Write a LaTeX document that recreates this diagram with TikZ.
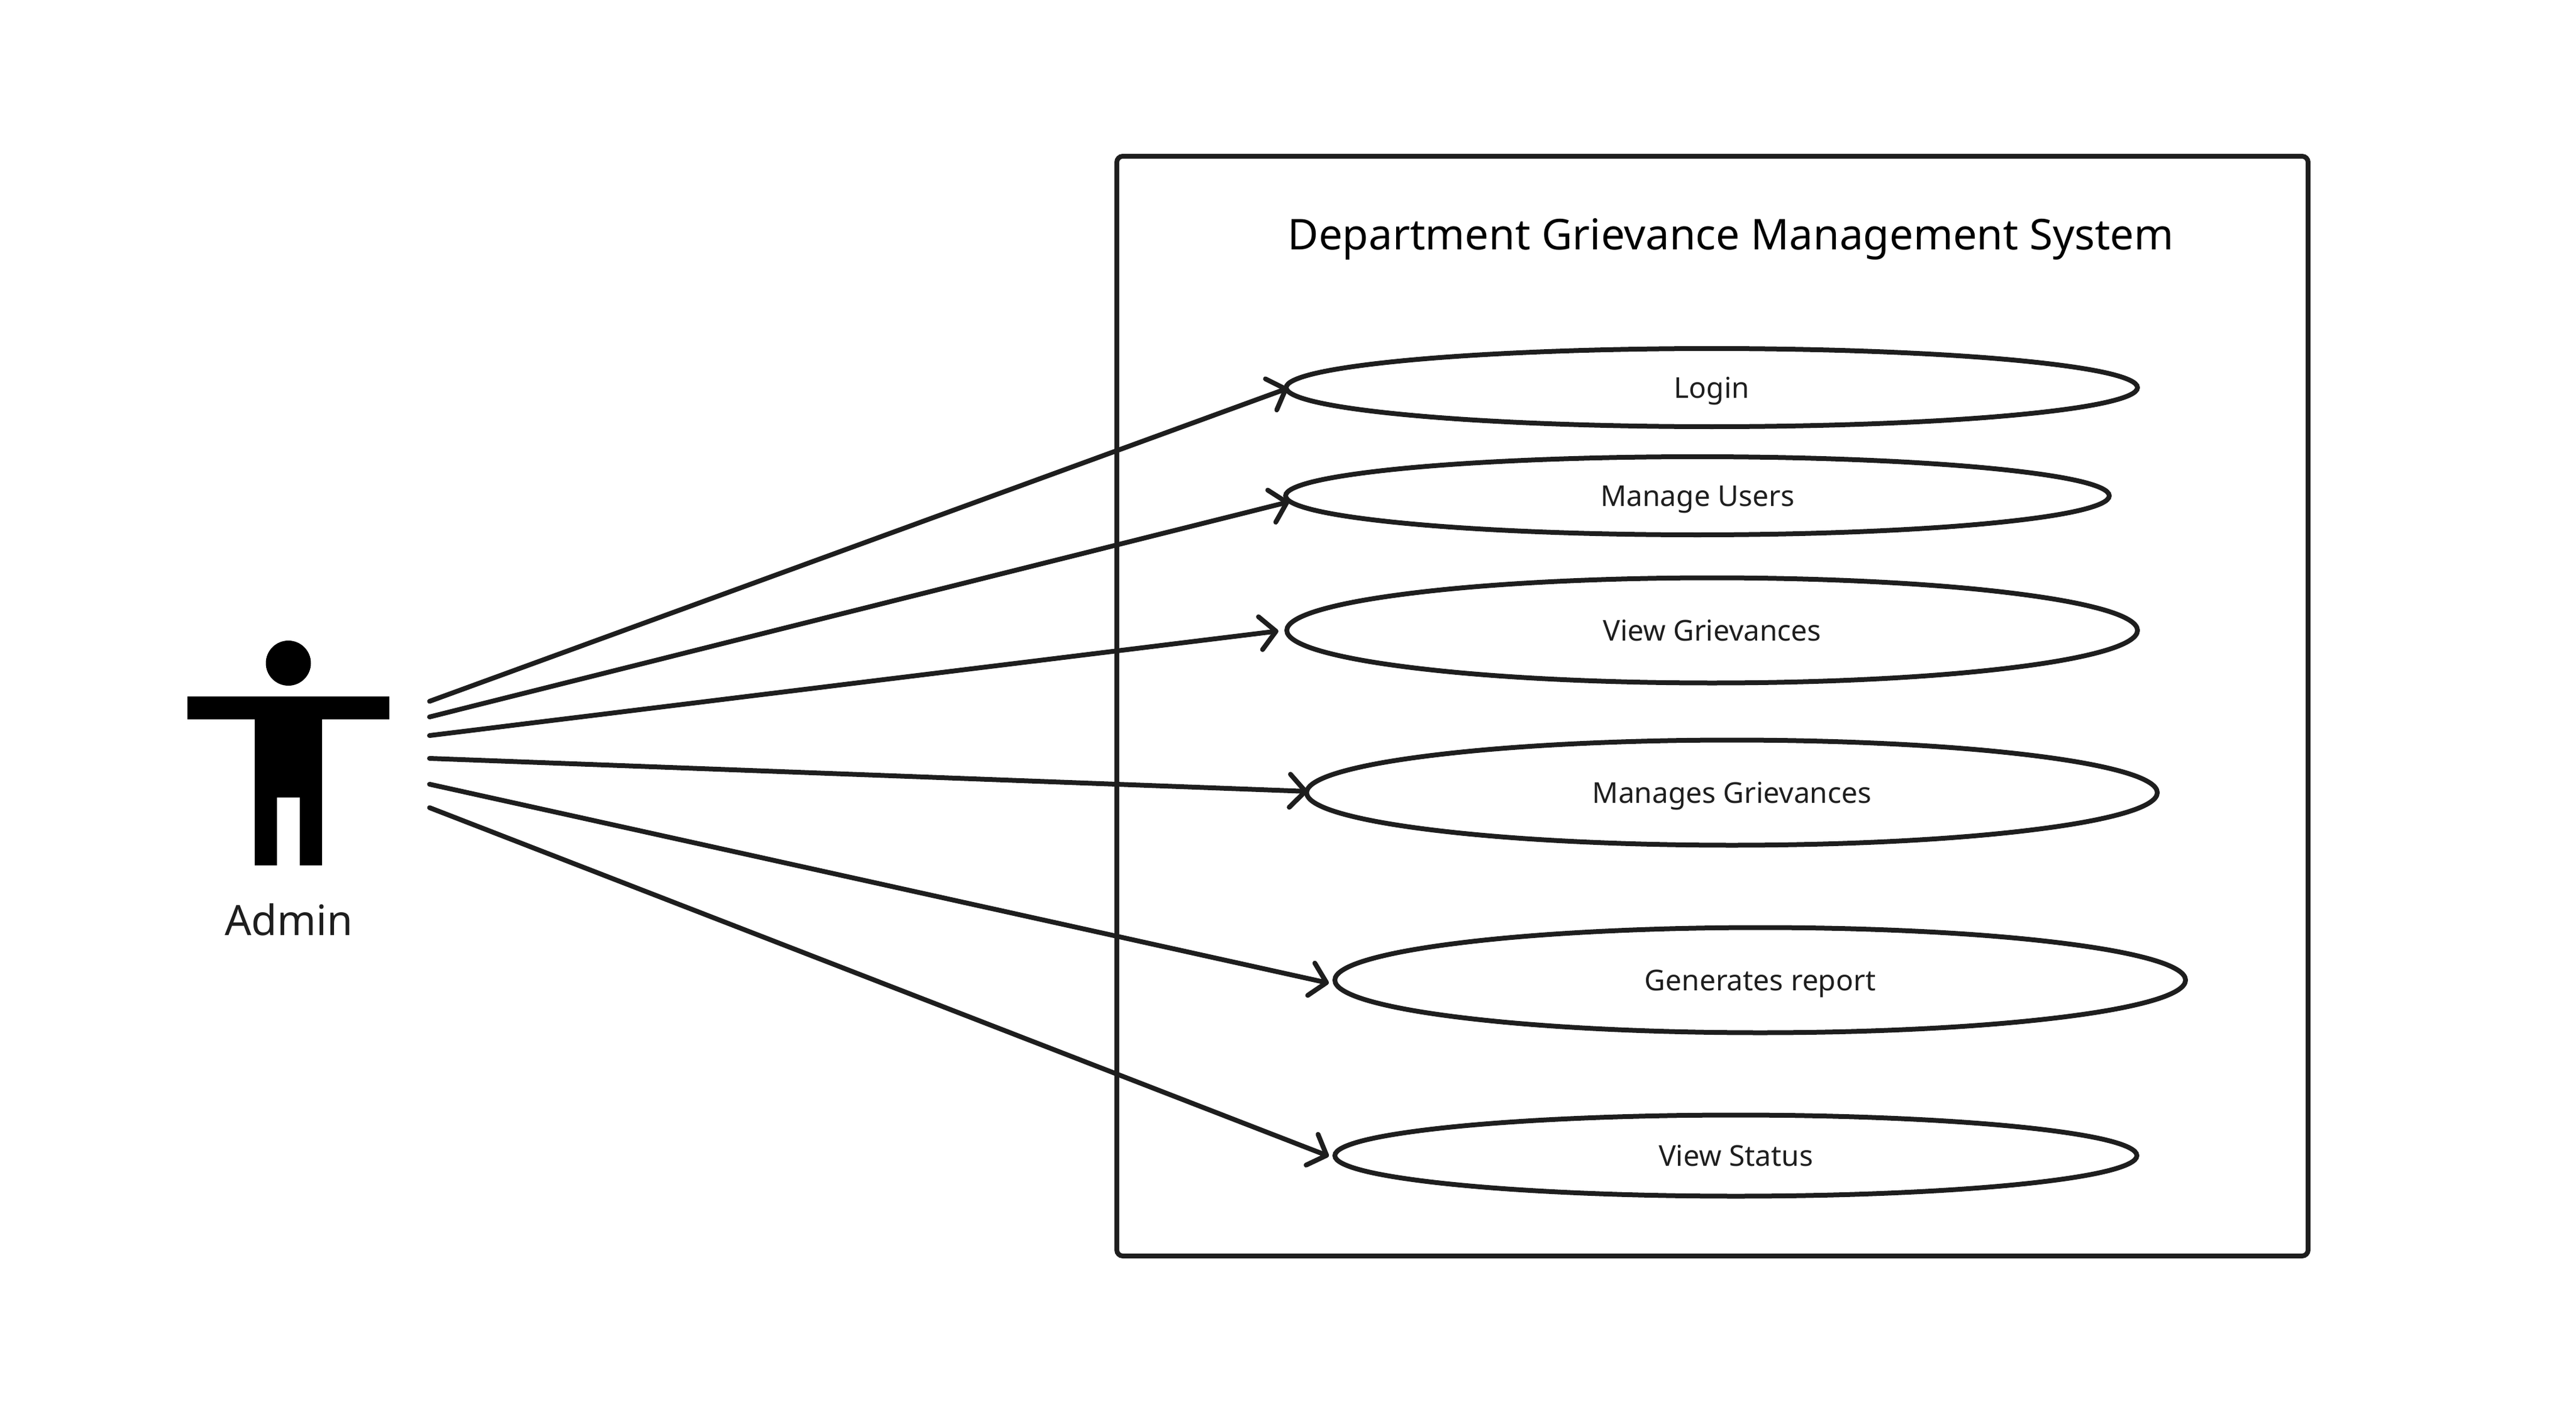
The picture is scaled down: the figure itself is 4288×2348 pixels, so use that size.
\documentclass[tikz,border=0pt]{standalone}
\usepackage{fontspec}
\setmainfont{Noto Sans}
\usetikzlibrary{shapes.geometric,arrows.meta}

\definecolor{inkline}{HTML}{1E1E1E}
\tikzset{
  usecase/.style={ellipse,draw=inkline,line width=0.8mm,inner sep=0pt,text=inkline,
    font=\fontsize{13.6}{16}\selectfont,text height=3.4mm,text depth=0mm},
  assoc/.style={draw=inkline,line width=0.8mm,line cap=round,
    -{Straight Barb[round,length=2.6mm,width=5.5mm]}}
}

\begin{document}
\begin{tikzpicture}[x=0.1mm,y=-0.1mm]
\useasboundingbox (0,0) rectangle (4288,2348);

\node[draw=inkline,line width=0.8mm,rounded corners=1mm,minimum width=198.3mm,minimum height=183mm] (system) at (2850.5,1175) {};
\node[anchor=base,font=\fontsize{20.1}{24}\selectfont] (title) at (2881,416) {Department Grievance Management System};

% actor
\fill[black] (480,1103.5) circle (37.5);
\fill[black] (312,1159) -- (648,1159) -- (648,1197) -- (536,1197) -- (536,1440) -- (499,1440) -- (499,1327)
  -- (461,1327) -- (461,1440) -- (424,1440) -- (424,1197) -- (312,1197) -- cycle;
\node[anchor=base,text=inkline,font=\fontsize{19.8}{24}\selectfont] (admin) at (481,1556) {Admin};

% use cases
\node[usecase,minimum width=141.7mm,minimum height=13mm] (login) at (2849.5,645) {Login};
\node[usecase,minimum width=137.1mm,minimum height=13mm] (users) at (2825.5,825) {Manage Users};
\node[usecase,minimum width=141.6mm,minimum height=17.5mm] (view) at (2850,1049) {View Grievances};
\node[usecase,minimum width=141.6mm,minimum height=17.5mm] (manage) at (2883,1319) {Manages Grievances};
\node[usecase,minimum width=141.6mm,minimum height=17.5mm] (report) at (2930,1631) {Generates report};
\node[usecase,minimum width=133.5mm,minimum height=13.5mm] (status) at (2889.5,1923) {View Status};

% free ends next to the actor
\coordinate (a1) at (715,1167);
\coordinate (a2) at (715,1193);
\coordinate (a3) at (715,1224);
\coordinate (a4) at (715,1262);
\coordinate (a5) at (715,1305);
\coordinate (a6) at (715,1344);

\draw[assoc] (a1) -- ([shift={(7,1)}]login.west);
\draw[assoc] (a2) -- ([shift={(10,10)}]users.west);
\draw[assoc] (a3) -- ([shift={(-10,1)}]view.west);
\draw[assoc] (a4) -- ([shift={(6,-2)}]manage.west);
\draw[assoc] (a5) -- ([shift={(-6,5)}]report.west);
\draw[assoc] (a6) -- ([shift={(-6,1)}]status.west);
\end{tikzpicture}
\end{document}
